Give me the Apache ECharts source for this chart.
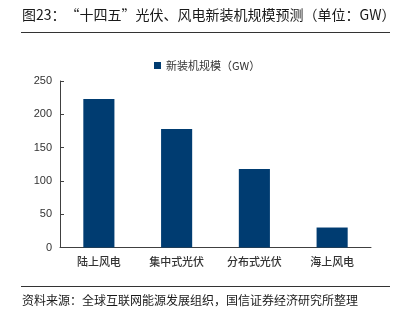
<!DOCTYPE html>
<html>
<head>
<meta charset="utf-8">
<script src="https://cdn.jsdelivr.net/npm/echarts@6/dist/echarts.min.js"></script>
<style>html,body{margin:0;padding:0;background:#fff;}#c{width:395px;height:323px;}</style>
</head>
<body>
<div id="c"></div>
<script>
const titleText = '图23：“十四五”光伏、风电新装机规模预测（单位：GW）';
const sourceText = '资料来源：全球互联网能源发展组织，国信证券经济研究所整理';
const seriesName = '新装机规模（GW）';
const categories = ['陆上风电', '集中式光伏', '分布式光伏', '海上风电'];
const values = [223, 178, 118, 30];
const yTicks = [0, 50, 100, 150, 200, 250];

const cjk = '"Noto Sans CJK SC", "Noto Sans", sans-serif';
const chart = echarts.init(document.getElementById('c'), null, {renderer: 'canvas'});
chart.setOption({
  animation: false,
  backgroundColor: '#fff',
  title: {
    text: titleText,
    left: 17, top: 3,
    textStyle: {fontFamily: cjk, fontSize: 14, fontWeight: 'normal', color: '#1a1a1a'}
  },
  legend: {
    data: [seriesName],
    left: 149, top: 55,
    icon: 'rect', itemWidth: 7, itemHeight: 7, itemGap: 4,
    textStyle: {fontFamily: cjk, fontSize: 11, color: '#333'}
  },
  grid: {left: 60, right: 24, top: 81, bottom: 75.5},
  xAxis: {
    type: 'category',
    data: categories,
    axisLine: {lineStyle: {color: '#404040', width: 1}},
    axisTick: {inside: true, length: 3, lineStyle: {color: '#404040'}},
    axisLabel: {fontFamily: cjk, fontSize: 11, fontWeight: 500, color: '#333', margin: 9}
  },
  yAxis: {
    type: 'value',
    min: yTicks[0], max: yTicks[yTicks.length - 1], interval: 50,
    axisLine: {show: true, lineStyle: {color: '#404040', width: 1}},
    axisTick: {show: true, inside: true, length: 4, lineStyle: {color: '#404040'}},
    splitLine: {show: false},
    axisLabel: {fontFamily: 'Liberation Sans, Arial, sans-serif', fontSize: 11, color: '#333', margin: 8}
  },
  series: [{
    name: seriesName,
    type: 'bar',
    data: values,
    barWidth: '40%',
    itemStyle: {color: '#003c71'}
  }],
  graphic: [
    {type: 'line', shape: {x1: 21, y1: 32.5, x2: 390, y2: 32.5}, style: {stroke: '#333', lineWidth: 1}},
    {type: 'line', shape: {x1: 21, y1: 286.5, x2: 390, y2: 286.5}, style: {stroke: '#333', lineWidth: 1}},
    {type: 'text', left: 22, top: 294, style: {text: sourceText, font: '12px ' + cjk, fill: '#1a1a1a'}}
  ]
});
</script>
</body>
</html>
